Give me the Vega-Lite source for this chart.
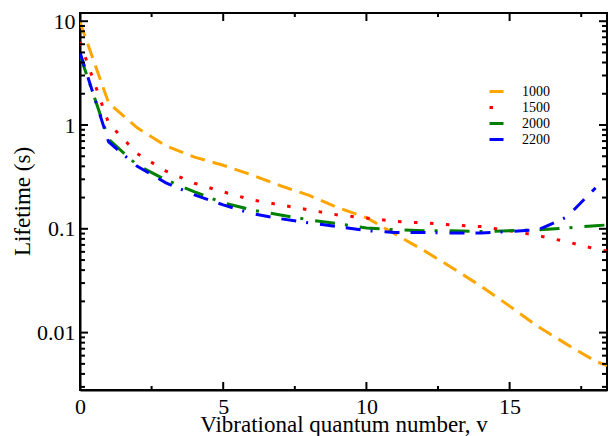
{
  "$schema": "https://vega.github.io/schema/vega-lite/v6.json",
  "width": 527,
  "height": 377,
  "autosize": {"type": "none"},
  "padding": {"left": 80, "top": 13, "right": 4, "bottom": 46},
  "background": "white",
  "config": {
    "view": {"stroke": "black", "strokeWidth": 2},
    "font": "Liberation Serif",
    "axis": {
      "grid": false,
      "ticks": false,
      "domainColor": "black",
      "domainWidth": 2,
      "labelFont": "Liberation Serif",
      "titleFont": "Liberation Serif",
      "labelFontSize": 22,
      "titleFontSize": 23,
      "titleFontWeight": "normal",
      "labelColor": "black",
      "titleColor": "black",
      "labelFlush": false,
      "labelOverlap": false
    }
  },
  "datasets": {
    "curves": [
      {"v": 0, "life": 9.8, "series": "1000"},
      {"v": 1, "life": 1.63, "series": "1000"},
      {"v": 2, "life": 0.94, "series": "1000"},
      {"v": 3, "life": 0.63, "series": "1000"},
      {"v": 4, "life": 0.49, "series": "1000"},
      {"v": 5, "life": 0.41, "series": "1000"},
      {"v": 6, "life": 0.33, "series": "1000"},
      {"v": 7, "life": 0.26, "series": "1000"},
      {"v": 8, "life": 0.21, "series": "1000"},
      {"v": 9, "life": 0.16, "series": "1000"},
      {"v": 10, "life": 0.128, "series": "1000"},
      {"v": 11, "life": 0.089, "series": "1000"},
      {"v": 12, "life": 0.062, "series": "1000"},
      {"v": 13, "life": 0.042, "series": "1000"},
      {"v": 14, "life": 0.028, "series": "1000"},
      {"v": 15, "life": 0.018, "series": "1000"},
      {"v": 16, "life": 0.0114, "series": "1000"},
      {"v": 17, "life": 0.0077, "series": "1000"},
      {"v": 18, "life": 0.0053, "series": "1000"},
      {"v": 18.4, "life": 0.0048, "series": "1000"},
      {"v": 0, "life": 6.3, "series": "1500"},
      {"v": 1, "life": 1.04, "series": "1500"},
      {"v": 2, "life": 0.53, "series": "1500"},
      {"v": 3, "life": 0.36, "series": "1500"},
      {"v": 4, "life": 0.275, "series": "1500"},
      {"v": 5, "life": 0.227, "series": "1500"},
      {"v": 6, "life": 0.19, "series": "1500"},
      {"v": 7, "life": 0.17, "series": "1500"},
      {"v": 8, "life": 0.152, "series": "1500"},
      {"v": 9, "life": 0.136, "series": "1500"},
      {"v": 10, "life": 0.127, "series": "1500"},
      {"v": 11, "life": 0.118, "series": "1500"},
      {"v": 12, "life": 0.114, "series": "1500"},
      {"v": 13, "life": 0.109, "series": "1500"},
      {"v": 14, "life": 0.105, "series": "1500"},
      {"v": 15, "life": 0.096, "series": "1500"},
      {"v": 16, "life": 0.086, "series": "1500"},
      {"v": 17, "life": 0.075, "series": "1500"},
      {"v": 18, "life": 0.064, "series": "1500"},
      {"v": 18.4, "life": 0.061, "series": "1500"},
      {"v": 0, "life": 4.7, "series": "2000"},
      {"v": 1, "life": 0.73, "series": "2000"},
      {"v": 2, "life": 0.41, "series": "2000"},
      {"v": 3, "life": 0.296, "series": "2000"},
      {"v": 4, "life": 0.227, "series": "2000"},
      {"v": 5, "life": 0.178, "series": "2000"},
      {"v": 6, "life": 0.152, "series": "2000"},
      {"v": 7, "life": 0.136, "series": "2000"},
      {"v": 8, "life": 0.122, "series": "2000"},
      {"v": 9, "life": 0.112, "series": "2000"},
      {"v": 10, "life": 0.102, "series": "2000"},
      {"v": 11, "life": 0.098, "series": "2000"},
      {"v": 12, "life": 0.096, "series": "2000"},
      {"v": 13, "life": 0.096, "series": "2000"},
      {"v": 14, "life": 0.094, "series": "2000"},
      {"v": 15, "life": 0.096, "series": "2000"},
      {"v": 16, "life": 0.098, "series": "2000"},
      {"v": 17, "life": 0.102, "series": "2000"},
      {"v": 18, "life": 0.107, "series": "2000"},
      {"v": 18.4, "life": 0.109, "series": "2000"},
      {"v": 0, "life": 5.0, "series": "2200"},
      {"v": 1, "life": 0.686, "series": "2200"},
      {"v": 2, "life": 0.40, "series": "2200"},
      {"v": 3, "life": 0.277, "series": "2200"},
      {"v": 4, "life": 0.212, "series": "2200"},
      {"v": 5, "life": 0.17, "series": "2200"},
      {"v": 6, "life": 0.14, "series": "2200"},
      {"v": 7, "life": 0.125, "series": "2200"},
      {"v": 8, "life": 0.114, "series": "2200"},
      {"v": 9, "life": 0.105, "series": "2200"},
      {"v": 10, "life": 0.096, "series": "2200"},
      {"v": 11, "life": 0.092, "series": "2200"},
      {"v": 12, "life": 0.092, "series": "2200"},
      {"v": 13, "life": 0.091, "series": "2200"},
      {"v": 14, "life": 0.091, "series": "2200"},
      {"v": 15, "life": 0.094, "series": "2200"},
      {"v": 16, "life": 0.098, "series": "2200"},
      {"v": 17, "life": 0.13, "series": "2200"},
      {"v": 18, "life": 0.248, "series": "2200"}
    ],
    "xmajor": [{"v": 0}, {"v": 5}, {"v": 10}, {"v": 15}],
    "xminor": [{"v": 2.5}, {"v": 7.5}, {"v": 12.5}, {"v": 17.5}],
    "ymajor": [{"life": 0.01}, {"life": 0.1}, {"life": 1}, {"life": 10}],
    "yminor": [
      {"life": 0.003}, {"life": 0.004}, {"life": 0.005}, {"life": 0.006}, {"life": 0.007}, {"life": 0.008}, {"life": 0.009},
      {"life": 0.02}, {"life": 0.03}, {"life": 0.04}, {"life": 0.05}, {"life": 0.06}, {"life": 0.07}, {"life": 0.08}, {"life": 0.09},
      {"life": 0.2}, {"life": 0.3}, {"life": 0.4}, {"life": 0.5}, {"life": 0.6}, {"life": 0.7}, {"life": 0.8}, {"life": 0.9},
      {"life": 2}, {"life": 3}, {"life": 4}, {"life": 5}, {"life": 6}, {"life": 7}, {"life": 8}, {"life": 9}
    ]
  },
  "resolve": {"axis": {"x": "independent", "y": "independent"}},
  "layer": [
    {
      "data": {"name": "curves"},
      "mark": {"type": "line", "clip": true, "strokeWidth": 3, "strokeCap": "butt"},
      "encoding": {
        "x": {
          "field": "v", "type": "quantitative",
          "scale": {"domain": [0, 18.4], "nice": false, "zero": false},
          "axis": {
            "orient": "bottom",
            "title": "Vibrational quantum number, v",
            "values": [0, 5, 10, 15],
            "format": "d",
            "labelPadding": 6,
            "titleX": 263.5,
            "titleY": 41,
            "titleBaseline": "alphabetic"
          }
        },
        "y": {
          "field": "life", "type": "quantitative",
          "scale": {"type": "log", "domain": [0.0028, 12], "nice": false},
          "axis": {
            "orient": "left",
            "title": "Lifetime (s)",
            "values": [0.01, 0.1, 1, 10],
            "format": "~g",
            "labelPadding": 5,
            "titleX": -58,
            "titleY": 188,
            "titleBaseline": "middle"
          }
        },
        "color": {
          "field": "series", "type": "nominal",
          "scale": {"domain": ["1000", "1500", "2000", "2200"], "range": ["#FFA500", "#FF0000", "#008000", "#0000FF"]},
          "legend": {
            "title": null,
            "orient": "none",
            "legendX": 408,
            "legendY": 70,
            "symbolType": "stroke",
            "symbolSize": 196,
            "symbolStrokeWidth": 3,
            "labelFont": "Liberation Serif",
            "labelFontSize": 14,
            "labelColor": "black",
            "labelOffset": 17,
            "rowPadding": 0
          }
        },
        "strokeDash": {
          "field": "series", "type": "nominal",
          "scale": {"domain": ["1000", "1500", "2000", "2200"], "range": [[15, 8], [3.5, 12.5], [20, 10, 3, 12], [15, 11, 15, 10, 2, 12]]},
          "legend": null
        }
      }
    },
    {
      "data": {"name": "xmajor"},
      "mark": {"type": "tick", "orient": "vertical", "size": 16, "thickness": 2, "color": "black", "clip": true, "opacity": 1},
      "encoding": {
        "x": {"field": "v", "type": "quantitative", "axis": null},
        "y": {"datum": 0.0028, "type": "quantitative", "axis": null}
      }
    },
    {
      "data": {"name": "xmajor"},
      "mark": {"type": "tick", "orient": "vertical", "size": 16, "thickness": 2, "color": "black", "clip": true, "opacity": 1},
      "encoding": {
        "x": {"field": "v", "type": "quantitative", "axis": null},
        "y": {"datum": 12, "type": "quantitative", "axis": null}
      }
    },
    {
      "data": {"name": "xminor"},
      "mark": {"type": "tick", "orient": "vertical", "size": 8, "thickness": 2, "color": "black", "clip": true, "opacity": 1},
      "encoding": {
        "x": {"field": "v", "type": "quantitative", "axis": null},
        "y": {"datum": 0.0028, "type": "quantitative", "axis": null}
      }
    },
    {
      "data": {"name": "xminor"},
      "mark": {"type": "tick", "orient": "vertical", "size": 8, "thickness": 2, "color": "black", "clip": true, "opacity": 1},
      "encoding": {
        "x": {"field": "v", "type": "quantitative", "axis": null},
        "y": {"datum": 12, "type": "quantitative", "axis": null}
      }
    },
    {
      "data": {"name": "ymajor"},
      "mark": {"type": "tick", "orient": "horizontal", "size": 16, "thickness": 2, "color": "black", "clip": true, "opacity": 1},
      "encoding": {
        "y": {"field": "life", "type": "quantitative", "axis": null},
        "x": {"datum": 0, "type": "quantitative", "axis": null}
      }
    },
    {
      "data": {"name": "ymajor"},
      "mark": {"type": "tick", "orient": "horizontal", "size": 16, "thickness": 2, "color": "black", "clip": true, "opacity": 1},
      "encoding": {
        "y": {"field": "life", "type": "quantitative", "axis": null},
        "x": {"datum": 18.4, "type": "quantitative", "axis": null}
      }
    },
    {
      "data": {"name": "yminor"},
      "mark": {"type": "tick", "orient": "horizontal", "size": 10, "thickness": 2, "color": "black", "clip": true, "opacity": 1},
      "encoding": {
        "y": {"field": "life", "type": "quantitative", "axis": null},
        "x": {"datum": 0, "type": "quantitative", "axis": null}
      }
    },
    {
      "data": {"name": "yminor"},
      "mark": {"type": "tick", "orient": "horizontal", "size": 10, "thickness": 2, "color": "black", "clip": true, "opacity": 1},
      "encoding": {
        "y": {"field": "life", "type": "quantitative", "axis": null},
        "x": {"datum": 18.4, "type": "quantitative", "axis": null}
      }
    }
  ]
}
